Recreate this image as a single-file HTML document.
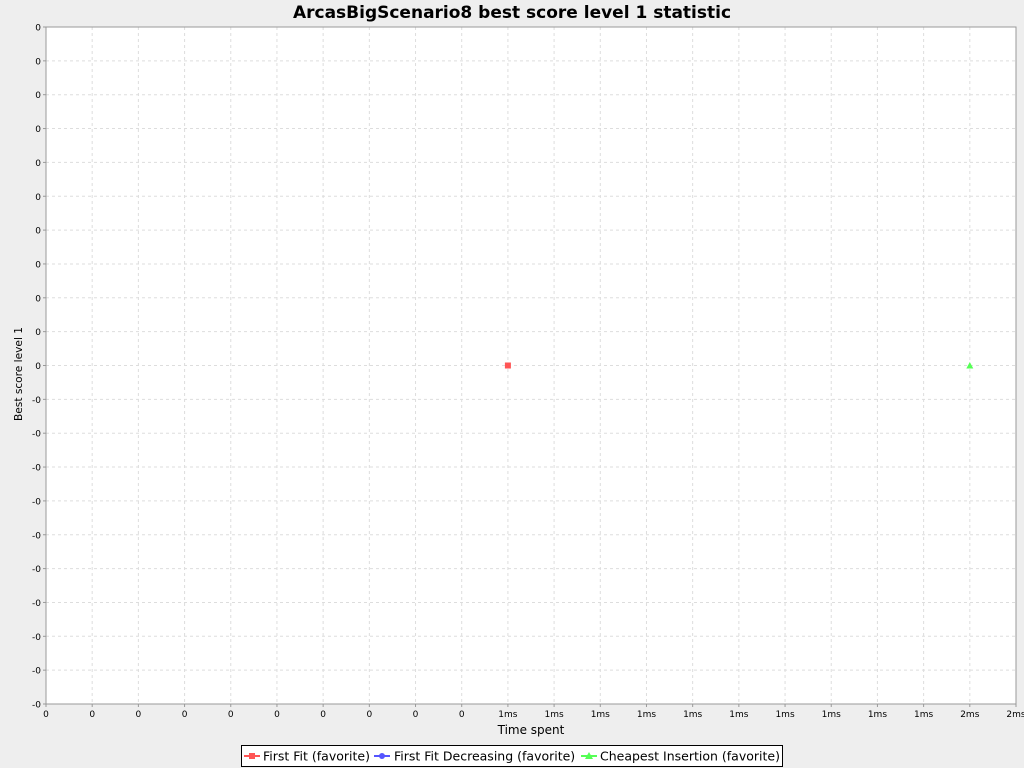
<!DOCTYPE html>
<html><head><meta charset="utf-8"><style>
body{margin:0;background:#eeeeee;font-family:"DejaVu Sans","Liberation Sans",sans-serif;}
svg{display:block}
</style></head><body>
<svg id="c" width="1024" height="768" xmlns="http://www.w3.org/2000/svg">
<text x="512" y="18" text-anchor="middle" font-size="17" font-weight="bold" fill="#000">ArcasBigScenario8 best score level 1 statistic</text>
<rect x="46" y="27" width="970" height="677" fill="#fff"/>
<g id="grid"></g>
<rect x="46" y="27" width="970" height="677" fill="none" stroke="#999"/>
<g id="marks"></g>
<text x="531" y="734" text-anchor="middle" font-size="12">Time spent</text>
<text transform="translate(22,374) rotate(-90)" text-anchor="middle" font-size="11" textLength="94" lengthAdjust="spacingAndGlyphs">Best score level 1</text>
<g>
<rect x="241.5" y="745.5" width="541" height="21" fill="#fff" stroke="#000"/>
<g><line x1="244" y1="756" x2="260" y2="756" stroke="#ff5555" stroke-width="2"/><rect x="249" y="753" width="6" height="6" fill="#ff5555"/><text x="263" y="760.5" font-size="12.5">First Fit (favorite)</text></g>
<g><line x1="374" y1="756" x2="390" y2="756" stroke="#5555ff" stroke-width="2"/><circle cx="382" cy="756" r="3" fill="#5555ff"/><text x="394" y="760.5" font-size="12.5">First Fit Decreasing (favorite)</text></g>
<g><line x1="581" y1="756" x2="597" y2="756" stroke="#55ff55" stroke-width="2"/><polygon points="589,752 593,759 585,759" fill="#55ff55"/><text x="600" y="760.5" font-size="12.5">Cheapest Insertion (favorite)</text></g>
</g>
</svg>
<script>
const xTicks=[0,0.1,0.2,0.3,0.4,0.5,0.6,0.7,0.8,0.9,1,1.1,1.2,1.3,1.4,1.5,1.6,1.7,1.8,1.9,2,2.1];
const xTickLabels=["0","0","0","0","0","0","0","0","0","0","1ms","1ms","1ms","1ms","1ms","1ms","1ms","1ms","1ms","1ms","2ms","2ms"];
const yTicks=[1,0.9,0.8,0.7,0.6,0.5,0.4,0.3,0.2,0.1,0,-0.1,-0.2,-0.3,-0.4,-0.5,-0.6,-0.7,-0.8,-0.9,-1];
const yTickLabels=["0","0","0","0","0","0","0","0","0","0","0","-0","-0","-0","-0","-0","-0","-0","-0","-0","-0"];
const firstFitX=[1];const firstFitY=[0];
const ffdX=[];const ffdY=[];
const cheapestX=[2];const cheapestY=[0];
const L=46,R=1016,T=27,B=704;
const sx=v=>L+(v-0)/(2.1-0)*(R-L);
const sy=v=>B-(v+1)/2*(B-T);
const NS="http://www.w3.org/2000/svg";
const g=document.getElementById('grid'),m=document.getElementById('marks');
function mk(tag,a,p){const e=document.createElementNS(NS,tag);for(const k in a)e.setAttribute(k,a[k]);p.appendChild(e);return e;}
xTicks.forEach((v,i)=>{const x=sx(v);
 const l=mk('line',{x1:x,x2:x,y1:T,y2:B,stroke:'#ddd','stroke-dasharray':'3,3'},g);
 
 
 mk('line',{x1:x,x2:x,y1:B,y2:B+3,stroke:'#999'},g);
 const t=mk('text',{x:x,y:B+13,'text-anchor':'middle','font-size':'9'},g);t.textContent=xTickLabels[i];
 
 });
yTicks.forEach((v,i)=>{const y=sy(v);
 const l=mk('line',{x1:L,x2:R,y1:y,y2:y,stroke:'#ddd','stroke-dasharray':'3,3'},g);
 
 
 mk('line',{x1:L-3,x2:L,y1:y,y2:y,stroke:'#999'},g);
 const t=mk('text',{x:L-5,y:y+3.5,'text-anchor':'end','font-size':'9'},g);t.textContent=yTickLabels[i];
 
 });
firstFitX.forEach((v,i)=>{const e=mk('rect',{x:sx(v)-3,y:sy(firstFitY[i])-3,width:6,height:6,fill:'#ff5555'},m);
 
 });
ffdX.forEach((v,i)=>{const e=mk('circle',{cx:sx(v),cy:sy(ffdY[i]),r:3,fill:'#5555ff'},m);
 
 });
cheapestX.forEach((v,i)=>{const x=sx(v),y=sy(cheapestY[i]);const e=mk('polygon',{points:`${x},${y-3.5} ${x+3.5},${y+3} ${x-3.5},${y+3}`,fill:'#55ff55'},m);
 
 });
</script>
</body></html>
